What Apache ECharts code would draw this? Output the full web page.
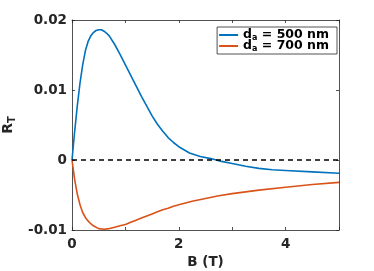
<!DOCTYPE html>
<html><head><meta charset="utf-8">
<script src="https://cdn.jsdelivr.net/npm/echarts@6/dist/echarts.min.js"></script>
<style>html,body{margin:0;padding:0;background:#fff;}#c{width:374px;height:271px;}</style>
</head><body><div id="c"></div>
<script>
const seriesNames = ['d_a = 500 nm', 'd_a = 700 nm'];
const bBlue = [0, 0.05, 0.1, 0.15, 0.2, 0.25, 0.3, 0.35, 0.4, 0.45, 0.5, 0.55, 0.6, 0.65, 0.7, 0.8, 0.9, 1.0, 1.1, 1.2, 1.3, 1.4, 1.5, 1.6, 1.7, 1.8, 1.9, 2.0, 2.2, 2.4, 2.6, 2.8, 3.0, 3.25, 3.5, 3.75, 4.0, 4.5, 5.0];
const rBlue = [0, 0.0041, 0.0078, 0.0110, 0.0136, 0.0156, 0.0169, 0.0177, 0.0182, 0.0185, 0.0186, 0.0186, 0.0184, 0.0181, 0.0177, 0.0165, 0.0151, 0.0136, 0.0121, 0.0106, 0.0091, 0.0077, 0.0063, 0.0051, 0.0041, 0.0032, 0.0025, 0.0019, 0.0010, 0.0005, 0.0002, -0.0002, -0.0005, -0.0009, -0.0012, -0.0014, -0.0015, -0.0017, -0.0019];
const bOrange = [0, 0.05, 0.1, 0.15, 0.2, 0.25, 0.3, 0.35, 0.4, 0.5, 0.6, 0.7, 0.8, 0.9, 1.0, 1.1, 1.2, 1.3, 1.4, 1.5, 1.6, 1.7, 1.8, 1.9, 2.0, 2.25, 2.5, 2.75, 3.0, 3.5, 4.0, 4.5, 5.0];
const rOrange = [0, -0.0028, -0.0049, -0.0064, -0.0075, -0.0082, -0.0087, -0.0091, -0.0094, -0.0098, -0.0099, -0.0098, -0.0096, -0.0094, -0.0092, -0.0089, -0.0086, -0.0083, -0.0080, -0.0077, -0.0074, -0.0071, -0.0069, -0.0066, -0.0064, -0.0059, -0.0055, -0.0051, -0.0048, -0.0043, -0.0039, -0.0035, -0.0032];
const zeroLine = 0;
const xTickLabels = ['0', '2', '4'];
const yTickLabels = ['-0.01', '0', '0.01', '0.02'];

const axisColor = '#262626';
const font = 'DejaVu Sans';
const zip = (a, b) => a.map((v, i) => [v, b[i]]);

const chart = echarts.init(document.getElementById('c'));
const baseX = {
  type: 'value', min: 0, max: 5, interval: 1,
  axisLine: { show: true, onZero: false, lineStyle: { color: axisColor, width: 0.8 } },
  axisTick: { show: true, inside: true, length: 3, lineStyle: { color: axisColor, width: 0.8 } },
  splitLine: { show: false }
};
const baseY = {
  type: 'value', min: -0.01, max: 0.02, interval: 0.01,
  axisLine: { show: true, onZero: false, lineStyle: { color: axisColor, width: 0.8 } },
  axisTick: { show: true, inside: true, length: 3, lineStyle: { color: axisColor, width: 0.8 } },
  splitLine: { show: false }
};
chart.setOption({
  animation: false,
  grid: { left: 72, right: 35, top: 20, bottom: 41, containLabel: false, outerBoundsMode: 'none' },
  xAxis: [
    Object.assign({}, baseX, {
      position: 'bottom',
      axisLabel: { show: true, margin: 7, color: axisColor, fontFamily: font, fontWeight: 'bold', fontSize: 13.5,
        formatter: v => (xTickLabels.indexOf(String(v)) >= 0 ? String(v) : '') },
      name: 'B (T)', nameLocation: 'middle', nameGap: 24,
      nameTextStyle: { color: axisColor, fontFamily: font, fontWeight: 'bold', fontSize: 13.5 }
    }),
    Object.assign({}, baseX, { position: 'top', axisLabel: { show: false } })
  ],
  yAxis: [
    Object.assign({}, baseY, {
      position: 'left',
      axisLabel: { show: true, margin: 5, color: axisColor, fontFamily: font, fontWeight: 'bold', fontSize: 13.5,
        formatter: v => { const s = String(Math.round(v * 100) / 100); return yTickLabels.indexOf(s) >= 0 ? s : ''; } },
      name: '{m|R}{s|T}', nameLocation: 'middle', nameRotate: 90, nameGap: 51,
      nameTextStyle: { color: axisColor, fontFamily: font, fontWeight: 'bold',
        rich: {
          m: { fontFamily: font, fontWeight: 'bold', fontSize: 14, color: axisColor, lineHeight: 18, verticalAlign: 'middle' },
          s: { fontFamily: font, fontWeight: 'bold', fontSize: 10, color: axisColor, lineHeight: 18, verticalAlign: 'bottom', padding: [8, 0, 0, 0] }
        } }
    }),
    Object.assign({}, baseY, { position: 'right', axisLabel: { show: false } })
  ],
  legend: {
    data: seriesNames,
    orient: 'vertical', right: 37, top: 27,
    backgroundColor: '#fff', borderColor: axisColor, borderWidth: 0.8,
    padding: [1, 8, 1, 2], itemGap: -3, itemWidth: 19, itemHeight: 2, icon: 'rect',
    formatter: n => { const p = n.split('_'); const rest = p[1]; return '{m|' + p[0] + '}{s|' + rest[0] + '}{m|' + rest.slice(1) + '}'; },
    textStyle: {
      padding: [0, 0, 0, 0],
      rich: {
        m: { fontFamily: font, fontWeight: 'bold', fontSize: 12.5, color: '#000', lineHeight: 11 },
        s: { fontFamily: font, fontWeight: 'bold', fontSize: 8, color: '#000', lineHeight: 11, padding: [6, 0, 0, 0] }
      }
    }
  },
  series: [
    { name: seriesNames[0], type: 'line', data: zip(bBlue, rBlue), smooth: false, showSymbol: false,
      lineStyle: { color: '#0072BD', width: 1.6 }, itemStyle: { color: '#0072BD' },
      markLine: { silent: true, symbol: 'none', label: { show: false },
        lineStyle: { color: '#000', type: [5, 4], width: 1.5 }, data: [{ yAxis: zeroLine }] } },
    { name: seriesNames[1], type: 'line', data: zip(bOrange, rOrange), smooth: false, showSymbol: false,
      lineStyle: { color: '#D95319', width: 1.6 }, itemStyle: { color: '#D95319' } }
  ]
});
</script></body></html>
